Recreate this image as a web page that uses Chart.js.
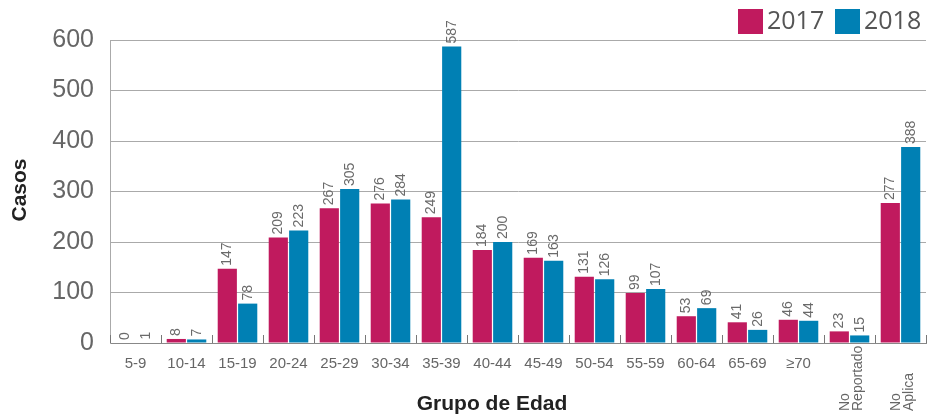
<!DOCTYPE html>
<html>
<head>
<meta charset="utf-8">
<script src="https://cdn.jsdelivr.net/npm/chart.js@4.4.0/dist/chart.umd.min.js"></script>
<style>
  html, body { margin: 0; padding: 0; background: #fff; }
  #wrap { width: 928px; height: 417px; }
</style>
</head>
<body>
<div id="wrap"><canvas id="myChart" width="928" height="417"></canvas></div>
<script>
var categories = ["5-9", "10-14", "15-19", "20-24", "25-29", "30-34", "35-39", "40-44",
    "45-49", "50-54", "55-59", "60-64", "65-69", "\u226570", ["No", "Reportado"], ["No", "Aplica"]];
var seriesNames = ["2017", "2018"];
var values2017 = [0, 8, 147, 209, 267, 276, 249, 184, 169, 131, 99, 53, 41, 46, 23, 277];
var values2018 = [1, 7, 78, 223, 305, 284, 587, 200, 163, 126, 107, 69, 26, 44, 15, 388];
var yTicks = [0, 100, 200, 300, 400, 500, 600];

var colors = ["#C01A5E", "#0080B4"];

// labels, legend, titles and the little inner ticks
var extras = {
    id: "extras",
    afterDatasetsDraw: function(chart) {
        var ctx = chart.ctx;
        ctx.save();
        // value labels on top of bars, rotated
        ctx.font = "14px 'Liberation Sans', Arial, sans-serif";
        ctx.fillStyle = "#6a6a6a";
        ctx.textAlign = "left";
        ctx.textBaseline = "middle";
        chart.data.datasets.forEach(function(ds, di) {
            var meta = chart.getDatasetMeta(di);
            meta.data.forEach(function(bar, i) {
                ctx.save();
                ctx.translate(bar.x, bar.y - 3);
                ctx.rotate(-Math.PI / 2);
                ctx.fillText(String(ds.data[i]), 0, 0);
                ctx.restore();
            });
        });
        ctx.restore();
    },
    afterDraw: function(chart) {
        var ctx = chart.ctx;
        var area = chart.chartArea;
        var x = chart.scales.x;
        ctx.save();
        // inner ticks between categories
        ctx.strokeStyle = "#777";
        ctx.lineWidth = 1;
        var step = (area.right - area.left) / categories.length;
        for (var i = 0; i <= categories.length; i++) {
            var px = Math.round(area.left + i * step) + 0.5;
            ctx.beginPath();
            ctx.moveTo(px, area.bottom);
            ctx.lineTo(px, area.bottom - 8);
            ctx.stroke();
        }
        // category labels
        ctx.fillStyle = "#666";
        categories.forEach(function(c, i) {
            var cx = x.getPixelForValue(i);
            if (Array.isArray(c)) {
                ctx.save();
                ctx.font = "14px 'Liberation Sans', Arial, sans-serif";
                ctx.translate(cx + 2, 411);
                ctx.rotate(-Math.PI / 2);
                ctx.textAlign = "left";
                ctx.textBaseline = "middle";
                ctx.fillText(c[0], 0, -6);
                ctx.fillText(c[1], 0, 7);
                ctx.restore();
            } else {
                ctx.font = "15px 'Liberation Sans', Arial, sans-serif";
                ctx.textAlign = "center";
                ctx.textBaseline = "middle";
                ctx.fillText(c, cx, 364);
            }
        });
        // axis titles
        ctx.fillStyle = "#222";
        ctx.font = "bold 21px 'Liberation Sans', Arial, sans-serif";
        ctx.textAlign = "center";
        ctx.textBaseline = "middle";
        ctx.fillText("Grupo de Edad", 492, 404);
        ctx.save();
        ctx.translate(20, 190);
        ctx.rotate(-Math.PI / 2);
        ctx.fillText("Casos", 0, 0);
        ctx.restore();
        // legend
        ctx.font = "25px 'Open Sans', sans-serif";
        ctx.textAlign = "left";
        ctx.textBaseline = "middle";
        var lx = [738, 835];
        seriesNames.forEach(function(n, i) {
            ctx.fillStyle = colors[i];
            ctx.fillRect(lx[i], 9, 25, 25);
            ctx.fillStyle = "#555";
            ctx.fillText(n, lx[i] + 29, 22);
        });
        ctx.restore();
    }
};

new Chart("myChart", {
    type: "bar",
    data: {
        labels: categories,
        datasets: [
            { label: seriesNames[0], data: values2017, backgroundColor: colors[0],
              categoryPercentage: 0.8, barPercentage: 0.94 },
            { label: seriesNames[1], data: values2018, backgroundColor: colors[1],
              categoryPercentage: 0.8, barPercentage: 0.94 }
        ]
    },
    options: {
        responsive: false,
        animation: false,
        layout: { padding: { top: 40, right: 2, bottom: 66, left: 0 } },
        plugins: {
            legend: { display: false },
            tooltip: { enabled: false }
        },
        scales: {
            x: {
                ticks: { display: false },
                grid: { display: false },
                border: { color: "#888", width: 1 }
            },
            y: {
                min: 0,
                max: 600,
                afterFit: function(scale) { scale.width = 110; },
                afterBuildTicks: function(scale) {
                    scale.ticks = yTicks.map(function(v) { return { value: v }; });
                },
                ticks: {
                    padding: 16,
                    color: "#666",
                    font: { family: "'Liberation Sans', Arial, sans-serif", size: 25 }
                },
                grid: { color: "#aaa", lineWidth: 1, drawTicks: false },
                border: { color: "#aaa", width: 1 }
            }
        }
    },
    plugins: [extras]
});
</script>
</body>
</html>
